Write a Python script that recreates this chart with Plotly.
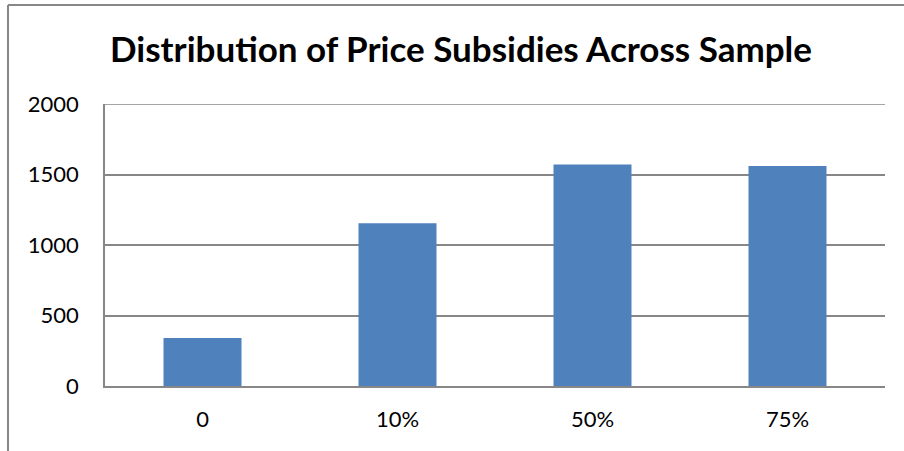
import plotly.graph_objects as go

categories = ["0", "10%", "50%", "75%"]
counts = [340, 1154, 1571, 1560]
y_ticks = [0, 500, 1000, 1500, 2000]

W, H = 904, 451
L, R, T, B = 105, 19, 104, 65
pw, ph = W - L - R, H - T - B

fig = go.Figure(go.Bar(x=categories, y=counts, marker=dict(color="#4F81BD", line=dict(width=0)), width=0.4))

gray = "#878787"
fig.update_layout(
    width=W, height=H,
    margin=dict(l=L, r=R, t=T, b=B, autoexpand=False),
    paper_bgcolor="white", plot_bgcolor="white",
    font=dict(family="Lato", size=22, color="black"),
    title=dict(text="<b>Distribution of Price Subsidies Across Sample</b>",
               x=(461) / W, xanchor="center", y=1 - 50 / H, yanchor="middle",
               font=dict(family="Lato", size=35, color="black")),
    showlegend=False,
    bargap=0.6,
)
fig.update_yaxes(range=[0, 2000], tickvals=y_ticks, showgrid=True, gridcolor=gray, gridwidth=1.5,
                 showline=True, linecolor=gray, linewidth=1.5, ticks="", ticklabelstandoff=20,
                 zeroline=False)
fig.update_xaxes(showline=True, linecolor=gray, linewidth=1.5, ticks="", ticklabelstandoff=13)

# top gridline at 2000 (plotly skips grid on the range edge)
fig.add_hline(y=y_ticks[-1], line=dict(color=gray, width=1.5))

# outer chart border (left and top)
fig.add_shape(type="line", xref="paper", yref="paper",
              x0=(8 - L) / pw, x1=(8 - L) / pw, y0=1 + (T - 5) / ph, y1=-(B + 5) / ph,
              line=dict(color=gray, width=2))
fig.add_shape(type="line", xref="paper", yref="paper",
              x0=(8 - L) / pw, x1=(W + 5 - L) / pw, y0=1 + (T - 5) / ph, y1=1 + (T - 5) / ph,
              line=dict(color=gray, width=2))

fig.write_html("out.html", config={"displayModeBar": False},
               post_script="document.body.style.margin='0';")
